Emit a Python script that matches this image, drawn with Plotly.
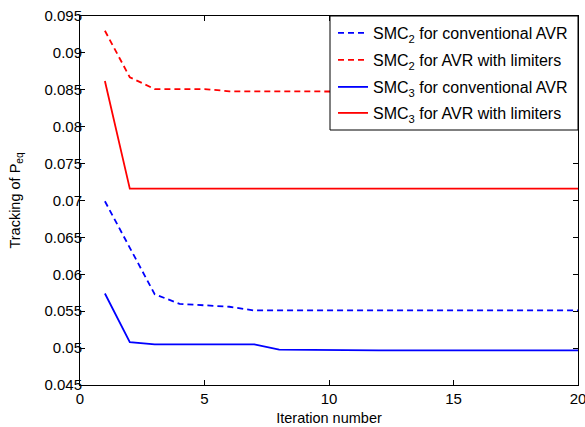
import plotly.graph_objects as go

iterations = list(range(1, 21))

smc2_conv = [0.0699, 0.0637, 0.0573, 0.0560, 0.0558, 0.0556, 0.0551, 0.0551, 0.0551, 0.0551,
             0.0551, 0.0551, 0.0551, 0.0551, 0.0551, 0.0551, 0.0551, 0.0551, 0.0551, 0.0551]
smc2_lim = [0.0930, 0.0867, 0.0851, 0.0851, 0.0851, 0.0848, 0.0848, 0.0847, 0.0847, 0.0847,
            0.0847, 0.0847, 0.0847, 0.0847, 0.0847, 0.0847, 0.0847, 0.0847, 0.0847, 0.0847]
smc3_conv = [0.0574, 0.0508, 0.0505, 0.0505, 0.0505, 0.0505, 0.0505, 0.0498, 0.04975, 0.0497,
             0.0497, 0.0497, 0.0497, 0.0497, 0.0497, 0.0497, 0.0497, 0.0497, 0.0497, 0.0497]
smc3_lim = [0.0862, 0.0716, 0.0716, 0.0716, 0.0716, 0.0716, 0.0716, 0.0716, 0.0716, 0.0716,
            0.0716, 0.0716, 0.0716, 0.0716, 0.0716, 0.0716, 0.0716, 0.0716, 0.0716, 0.0716]

names = ["SMC<sub>2</sub> for conventional AVR", "SMC<sub>2</sub> for AVR with limiters",
         "SMC<sub>3</sub> for conventional AVR", "SMC<sub>3</sub> for AVR with limiters"]

y_ticks = [0.045, 0.05, 0.055, 0.06, 0.065, 0.07, 0.075, 0.08, 0.085, 0.09, 0.095]
y_tick_text = ["0.045", "0.05", "0.055", "0.06", "0.065", "0.07", "0.075", "0.08", "0.085", "0.09", "0.095"]
x_ticks = [0, 5, 10, 15, 20]

FONT = "Liberation Sans, Arial, sans-serif"

# figure geometry (pixels)
W, H = 585, 427
ML, MR, MT, MB = 80, 7, 16, 42
PW, PH = W - ML - MR, H - MT - MB

def px_x(px):
    return (px - ML) / PW

def px_y(py):
    return (H - MB - py) / PH

fig = go.Figure()
series = [
    (smc2_conv, "#0000ff", "6px,4px"),
    (smc2_lim, "#ff0000", "6px,4px"),
    (smc3_conv, "#0000ff", "solid"),
    (smc3_lim, "#ff0000", "solid"),
]
legend_ids = ["legend", "legend2", "legend3", "legend4"]
legend_rows = [33, 60, 87, 113]
for (vals, color, dash), name, lid in zip(series, names, legend_ids):
    fig.add_trace(go.Scatter(
        x=iterations, y=vals, mode="lines", name=name, legend=lid,
        line=dict(color=color, width=1.8, dash=dash),
    ))

axis_common = dict(
    showline=True, linecolor="black", linewidth=1, mirror="ticks",
    ticks="inside", ticklen=5, tickcolor="black", showgrid=False, zeroline=False,
    automargin=False, ticklabeloverflow="allow",
    tickfont=dict(family=FONT, size=15, color="black"),
)

legend_layouts = {}
for lid, row in zip(legend_ids, legend_rows):
    legend_layouts[lid] = dict(
        x=px_x(333), y=px_y(row), xanchor="left", yanchor="middle",
        bgcolor="rgba(0,0,0,0)", borderwidth=0, itemwidth=30,
        font=dict(family=FONT, size=16, color="black"),
    )

fig.update_layout(
    width=W, height=H,
    margin=dict(l=ML, r=MR, t=MT, b=MB, autoexpand=False),
    plot_bgcolor="white", paper_bgcolor="white",
    font=dict(family=FONT, size=14, color="black"),
    xaxis=dict(range=[0, 20], tickvals=x_ticks, ticklabelstandoff=0,
               title=dict(text="Iteration number", font=dict(size=14.5), standoff=6),
               **axis_common),
    yaxis=dict(range=[0.045, 0.095], tickvals=y_ticks, ticktext=y_tick_text, ticklabelstandoff=-6,
               title=dict(text="Tracking of P<sub>eq</sub>", font=dict(size=14.5), standoff=20),
               **axis_common),
    showlegend=True,
    shapes=[dict(type="rect", xref="paper", yref="paper",
                 x0=px_x(330), x1=1, y0=px_y(130), y1=1,
                 fillcolor="white", line=dict(color="black", width=1), layer="above")],
    **legend_layouts,
)

fig.write_html("out.html", config={"displayModeBar": False},
               post_script="document.body.style.margin='0';")
